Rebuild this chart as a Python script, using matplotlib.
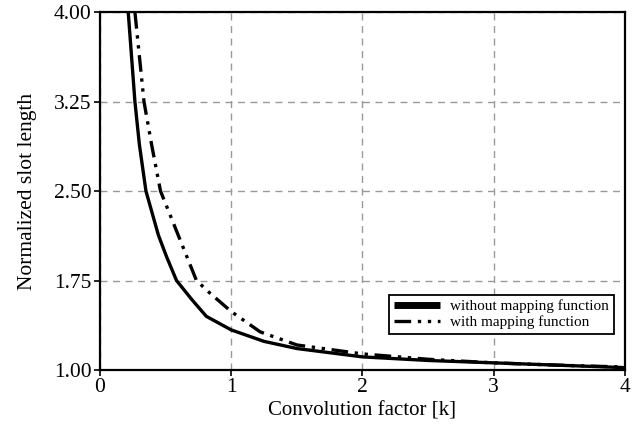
import numpy as np
import matplotlib.pyplot as plt

plt.rcParams['font.family'] = ['Liberation Serif', 'DejaVu Serif']

# values
k_without = [0.215, 0.266, 0.30, 0.35, 0.445, 0.507, 0.583, 0.70, 0.81, 1.0, 1.25, 1.5, 2.0, 2.5, 3.0, 3.5, 4.0]
len_without = [4.0, 3.25, 2.89, 2.5, 2.13, 1.95, 1.75, 1.59, 1.45, 1.336, 1.24, 1.18, 1.11, 1.08, 1.06, 1.04, 1.02]

k_with = [0.266, 0.335, 0.393, 0.461, 0.596, 0.735, 0.837, 1.0, 1.22, 1.5, 2.0, 2.5, 3.0, 3.5, 4.0]
len_with = [4.0, 3.25, 2.89, 2.5, 2.13, 1.75, 1.645, 1.49, 1.32, 1.21, 1.135, 1.09, 1.06, 1.04, 1.025]

xticks = [0, 1, 2, 3, 4]
yticks = [1.00, 1.75, 2.50, 3.25, 4.00]

fig = plt.figure(figsize=(6.39, 4.30), dpi=100)
ax = fig.add_axes([0.1565, 0.1395, 0.8215, 0.8325])

ax.plot(k_without, len_without, color='black', lw=2.4, solid_capstyle='butt',
        label='without mapping function')
ax.plot(k_with, len_with, color='black', lw=2.4, dashes=(5, 2, 1, 2, 1, 2),
        label='with mapping function')

ax.set_xlim(0, 4)
ax.set_ylim(1, 4)
ax.set_xticks(xticks)
ax.set_xticklabels([str(t) for t in xticks])
ax.set_yticks(yticks)
ax.set_yticklabels(['%.2f' % t for t in yticks])
ax.tick_params(direction='out', length=4, width=1.2, labelsize=15.5, pad=2)

ax.grid(True, color='#999999', linestyle=(0, (5, 4)), lw=1)
for s in ax.spines.values():
    s.set_linewidth(1.6)

ax.set_xlabel('Convolution factor [k]', fontsize=15, labelpad=3)
ax.set_ylabel('Normalized slot length', fontsize=15.5, labelpad=12)

leg = ax.legend(loc='lower right', bbox_to_anchor=(0.979, 0.101), borderaxespad=0,
                fontsize=11, frameon=True, fancybox=False, edgecolor='black',
                framealpha=1, handlelength=3, handletextpad=0.7,
                borderpad=0.3, labelspacing=0.15)
leg.get_frame().set_linewidth(1.3)
leg.legend_handles[0].set_linewidth(5)

fig.savefig('out.png', dpi=100)
